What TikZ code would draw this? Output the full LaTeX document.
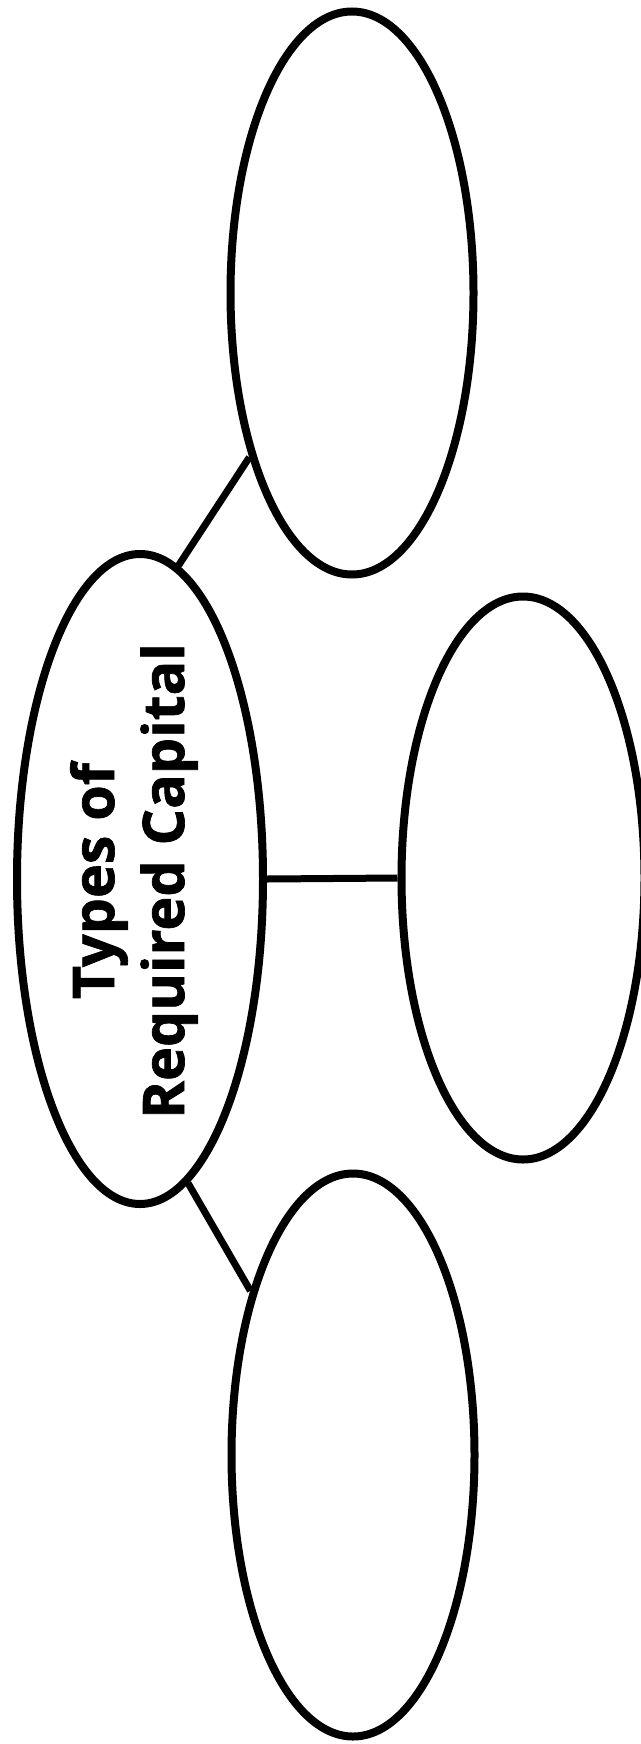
\documentclass[tikz,border=0pt]{standalone}
\usepackage{fontspec}
\setmainfont{Open Sans}
\newfontfamily\titlefont{Open Sans}[BoldFeatures={FakeBold=1.2}]
\usepackage{tikz}
\usetikzlibrary{shapes.geometric,positioning}

\begin{document}
\begin{tikzpicture}[
        x=0.5pt, y=-0.5pt,
        bubble/.style={ellipse, draw=black, line width=4pt, inner sep=0pt,
          minimum width=121.5pt, minimum height=281.5pt},
        hubstyle/.style={bubble, minimum width=123pt, minimum height=325pt},
        link/.style={draw=black, line width=3.5pt},
        title/.style={rotate=90, align=center,
          font=\titlefont\fontsize{28.7}{35}\selectfont\bfseries}
      ]
        \useasboundingbox (0,0) rectangle (641,1744);

        % Central bubble
        \node[hubstyle] (hub) at (140,879) {};
        \node[title] (lbl) at (134,881) {Types of\\Required Capital};

        % Empty bubbles
        \node[bubble] (top) at (352,293) {};
        \node[bubble] (mid) at (523,878) {};
        \node[bubble] (bot) at (353,1455) {};

        % Links
        \draw[link] (hub.83.4) -- (top.238.8);
        \draw[link] (hub.east) -- (mid.west);
        \draw[link] (hub.279.2) -- (bot.122.1);
      \end{tikzpicture}
\end{document}
